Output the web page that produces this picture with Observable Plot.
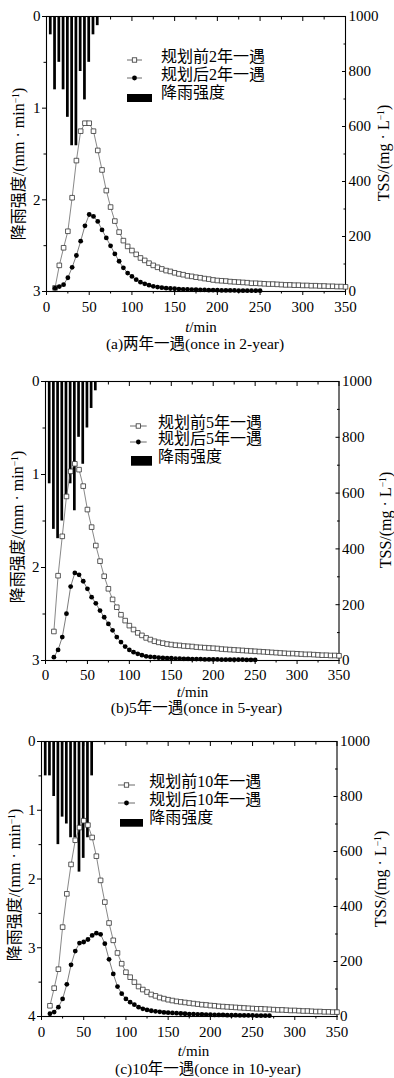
<!DOCTYPE html>
<html><head><meta charset="utf-8">
<script src="https://cdn.jsdelivr.net/npm/d3@7"></script>
<script src="https://cdn.jsdelivr.net/npm/@observablehq/plot@0.6"></script>
<style>
html,body{margin:0;padding:0;background:#fff;}
#root{position:relative;width:394px;height:1078px;overflow:hidden;background:#fff;font-family:"Liberation Serif","Noto Sans CJK SC",serif;color:#000;}
#root svg text{font-family:"Liberation Serif","Noto Sans CJK SC",serif !important;}
.abs{position:absolute;white-space:nowrap;line-height:1;}
.rot{transform:translate(-50%,-50%) rotate(-90deg);}
.ctr{transform:translate(-50%,-50%);}
.lft{transform:translate(0,-50%);}
sup{font-size:0.6em;vertical-align:0;position:relative;top:-0.55em;}
</style></head><body><div id="root"></div>
<script>
// ---------- data ----------
const rainTime = [5,10,15,20,25,30,35,40,45,50,55,60];
const rainA = [0.2,0.8,0.5,0.8,1.1,1.41,1.41,0.6,0.91,0.5,0.2,0.1];
const rainB = [1.1,1.59,1.69,1.5,1.24,1.1,1.39,0.6,0.89,0.5,0.29,0.1];
const rainC = [0.5,0.5,0.8,1.5,1.1,1.2,1.4,1.4,1.9,1.7,1.4,0.5];

const tssTime = [10,15,20,25,30,35,40,45,50,55,60,65,70,75,80,85,90,95,100,105,110,115,120,125,130,135,140,145,150,155,160,165,170,175,180,185,190,195,200,205,210,215,220,225,230,235,240,245,250,255,260,265,270,275,280,285,290,295,300,305,310,315,320,325,330,335,340,345,350];

const preA = [13,95,159,219,341,476,583,612,612,583,
  513,442,367,307,256,216,185,164,149,135,
  122,113,103,95,88,82,76,73,68,64,
  61,57,55,52,50,47,45,42,40,39,
  38,36,35,34,33,32,30,30,29,28,
  27,27,26,25,24,24,23,23,22,22,
  21,21,20,20,19,19,18,18,17];
const postA = [12,18,25,50,88,131,183,239,280,273,
  255,224,195,166,137,110,86,67,55,43,
  34,28,23,19,16,14,12,11,10,9,
  8,8,7,7,6,6,5,5,5,4,
  4,4,4,3,3,3,3,3,3];

const preB = [104,304,445,588,678,705,684,625,541,478,
  412,356,302,257,219,191,164,143,125,111,
  99,90,81,75,69,65,62,59,57,55,
  54,52,51,50,48,47,46,45,44,43,
  41,40,39,38,37,36,35,34,33,32,
  31,30,29,28,27,26,25,25,24,23,
  22,22,21,20,19,19,18,18,17];
const postB = [12,38,84,168,265,314,307,284,257,227,
  205,179,155,131,108,84,66,50,38,30,
  24,19,15,13,12,10,9,8,8,7,
  7,6,6,5,5,5,4,4,4,4,
  3,3,3,3,3,3,2,2,2];

const preC = [39,103,172,325,446,553,641,687,712,696,
  651,583,495,416,340,277,231,192,161,143,
  125,109,98,89,80,75,69,65,61,58,
  55,53,51,49,47,45,43,42,40,39,
  37,36,35,34,33,32,31,30,29,28,
  28,27,26,25,24,24,23,22,22,21,
  20,20,19,18,18,17,17,16,16];
const postC = [10,16,34,64,117,188,238,267,271,280,
  295,303,299,265,208,155,109,83,64,52,
  43,34,28,24,21,19,17,15,14,13,
  12,11,10,9,9,8,8,7,7,6,
  6,6,5,5,5,4,4,4,4,3,
  3,3,3];

const xTicks = [0,50,100,150,200,250,300,350];
const xMinor = [25,75,125,175,225,275,325];
const tssTicks = [0,200,400,600,800,1000];
const tssMinor = [100,300,500,700,900];

const legendPre = ["规划前2年一遇","规划前5年一遇","规划前10年一遇"];
const legendPost = ["规划后2年一遇","规划后5年一遇","规划后10年一遇"];
const legendRain = "降雨强度";
const captions = ["(a)两年一遇(once in 2-year)","(b)5年一遇(once in 5-year)","(c)10年一遇(once in 10-year)"];
const yLeftTitle = "降雨强度/(mm · min<sup>−1</sup>)";
const yRightTitle = "TSS/(mg · L<sup>−1</sup>)";
const xTitle = "<i>t</i>/min";

// ---------- layout ----------
const panels = [
  {rain: rainA, pre: preA, post: postA, ymax: 3, yTicks:[0,1,2,3], yMinor:[0.5,1.5,2.5],
   fTop:16, fBot:291, left:46, right:345, xPad:6.3,
   leg:{x0:126.7, x1:141.7, tx:161, y:[57,75,93], rx0:126.7, rx1:151.7, ry0:89.3, ry1:97.3},
   lt:[19,164], rt:[384,153], xt:[201,327], cap:[195,344]},
  {rain: rainB, pre: preB, post: postB, ymax: 3, yTicks:[0,1,2,3], yMinor:[0.5,1.5,2.5],
   fTop:381, fBot:660, left:45, right:338.5, xPad:4.5,
   leg:{x0:130, x1:146.7, tx:158, y:[422.7,439.3,457.3], rx0:130.7, rx1:151.7, ry0:453, ry1:462.7},
   lt:[18,527], rt:[386,520], xt:[192.5,691.5], cap:[196.5,708]},
  {rain: rainC, pre: preC, post: postC, ymax: 4, yTicks:[0,1,2,3,4], yMinor:[0.5,1.5,2.5,3.5],
   fTop:741, fBot:1016, left:41, right:336.5, xPad:6,
   leg:{x0:118, x1:135, tx:149.3, y:[782.3,800,818.3], rx0:120, rx1:143.3, ry0:814, ry1:821.7},
   lt:[15,885], rt:[381,879], xt:[193.5,1051], cap:[208,1069]}
];

const root = document.getElementById("root");
const FONT = "'Liberation Serif', 'Noto Sans CJK SC', serif";
const plain = d => String(d);

function addText(html, x, y, cls, extra) {
  const d = document.createElement("div");
  d.className = "abs " + cls;
  d.innerHTML = html;
  d.style.left = x + "px";
  d.style.top = y + "px";
  Object.assign(d.style, extra || {});
  root.appendChild(d);
  return d;
}
function addSvg(markup, x, y, w, h) {
  const d = document.createElement("div");
  d.className = "abs";
  d.style.left = x + "px"; d.style.top = y + "px";
  d.innerHTML = `<svg width="${w}" height="${h}" xmlns="http://www.w3.org/2000/svg">${markup}</svg>`;
  root.appendChild(d);
}
const rows = (ts, vs) => vs.map((v, i) => ({t: ts[i], v}));

panels.forEach((p, k) => {
  const svgTop = p.fTop - 16;
  const H = (p.fBot - p.fTop) + 16 + 34;
  const common = {
    width: 394, height: H,
    marginLeft: p.left, marginRight: 394 - p.right,
    marginTop: 16, marginBottom: 34,
    style: {background: "transparent", fontFamily: FONT, fontSize: "15px", color: "#000", overflow: "visible"},
    x: {domain: [0, 350], label: null}
  };
  const rainPlot = Plot.plot({
    ...common,
    y: {domain: [0, p.ymax], reverse: true, label: null},
    marks: [
      Plot.rectY(rows(rainTime, p.rain), {x1: d => d.t - 1.6, x2: d => d.t + 1.6, y: "v", fill: "#000"}),
      Plot.axisY({anchor: "left", ticks: p.yTicks, tickSize: 4, tickPadding: 2, tickFormat: plain, label: null, fontSize: 15}),
      Plot.axisY({anchor: "left", ticks: p.yMinor, tickSize: 2.5, tickFormat: () => "", label: null}),
      Plot.axisX({anchor: "bottom", ticks: xTicks, tickSize: 4, tickPadding: p.xPad, tickFormat: plain, label: null, fontSize: 15}),
      Plot.axisX({anchor: "bottom", ticks: xMinor, tickSize: 2.5, tickFormat: () => "", label: null}),
      Plot.frame({stroke: "#000", strokeWidth: 1.1})
    ]
  });
  const tssPlot = Plot.plot({
    ...common,
    y: {domain: [0, 1000], label: null},
    marks: [
      Plot.line(rows(tssTime, p.pre), {x: "t", y: "v", stroke: "#555", strokeWidth: 0.7}),
      Plot.line(rows(tssTime, p.post), {x: "t", y: "v", stroke: "#444", strokeWidth: 0.7}),
      Plot.dot(rows(tssTime, p.pre), {x: "t", y: "v", symbol: "square", r: 2.6, fill: "#fff", stroke: "#333", strokeWidth: 0.8}),
      Plot.dot(rows(tssTime, p.post), {x: "t", y: "v", r: 2.4, fill: "#000", stroke: "none"}),
      Plot.axisY({anchor: "right", ticks: tssTicks, tickSize: 0, tickPadding: 3, tickFormat: plain, label: null, fontSize: 15}),
      Plot.axisY({anchor: "right", ticks: tssTicks, tickSize: 4, dx: -4, tickFormat: () => "", label: null}),
      Plot.axisY({anchor: "right", ticks: tssMinor, tickSize: 2.5, dx: -2.5, tickFormat: () => "", label: null}),
      Plot.axisX({anchor: "top", ticks: xTicks, tickSize: 4, dy: 4, tickFormat: () => "", label: null}),
      Plot.axisX({anchor: "top", ticks: xMinor, tickSize: 2.5, dy: 2.5, tickFormat: () => "", label: null})
    ]
  });
  for (const s of [rainPlot, tssPlot]) {
    s.style.position = "absolute";
    s.style.left = "0px";
    s.style.top = svgTop + "px";
    root.appendChild(s);
  }
  // axis titles
  addText(yLeftTitle, p.lt[0], p.lt[1], "rot", {fontSize: "16px"});
  addText(yRightTitle, p.rt[0], p.rt[1], "rot", {fontSize: "16px"});
  addText(xTitle, p.xt[0], p.xt[1], "ctr", {fontSize: "15px"});
  addText(captions[k], p.cap[0], p.cap[1], "ctr", {fontSize: "15.5px"});
  // legend
  const L = p.leg, w = L.x1 - L.x0;
  addSvg(`<line x1="0" y1="5" x2="${w}" y2="5" stroke="#444" stroke-width="0.8"/><rect x="${w/2-2.2}" y="2.8" width="4.4" height="4.4" fill="#fff" stroke="#333" stroke-width="0.8"/>`, L.x0, L.y[0] - 5, w, 10);
  addSvg(`<line x1="0" y1="5" x2="${w}" y2="5" stroke="#444" stroke-width="0.8"/><circle cx="${w/2}" cy="5" r="2.4" fill="#000"/>`, L.x0, L.y[1] - 5, w, 10);
  addSvg(`<rect x="0" y="0" width="${L.rx1 - L.rx0}" height="${L.ry1 - L.ry0}" fill="#000"/>`, L.rx0, L.ry0, L.rx1 - L.rx0, L.ry1 - L.ry0);
  addText(legendPre[k], L.tx, L.y[0], "lft", {fontSize: "16px"});
  addText(legendPost[k], L.tx, L.y[1], "lft", {fontSize: "16px"});
  addText(legendRain, L.tx, L.y[2], "lft", {fontSize: "16px"});
});
</script></body></html>
